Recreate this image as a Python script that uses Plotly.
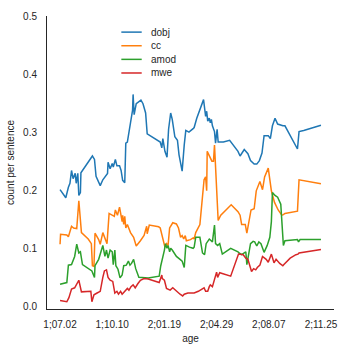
import plotly.graph_objects as go

# age in days from first session; ticks every 100 days
age_ticks = [0, 100, 200, 300, 400, 500]
age_labels = ['1;07.02', '1;10.10', '2;01.19', '2;04.29', '2;08.07', '2;11.25']

series_names = ['dobj', 'cc', 'amod', 'mwe']
series_colors = ['#1f77b4', '#ff7f0e', '#2ca02c', '#d62728']

age_dobj = [0, 11, 16, 19, 22, 25, 29, 31, 34, 36, 39, 40, 62, 66, 69, 77, 82, 91, 92, 96,
            100, 102, 106, 109, 114, 117, 120, 124, 126, 129, 135, 139, 140, 142, 146, 155, 159,
            164, 167, 192, 195, 197, 201, 205, 208, 212, 215, 220, 225, 228, 234, 236, 238, 241,
            247, 255, 257, 262, 275, 279, 281, 283, 286, 288, 290, 292, 296, 298, 301, 303, 313,
            325, 341, 345, 353, 360, 365, 372, 377, 382, 387, 391, 399, 403, 407, 412, 417, 427,
            431, 455, 458, 467, 500]
dobj = [0.201, 0.187, 0.205, 0.212, 0.234, 0.220, 0.229, 0.212, 0.229, 0.191, 0.196, 0.230,
        0.259, 0.253, 0.224, 0.208, 0.218, 0.229, 0.248, 0.237, 0.246, 0.240, 0.253, 0.242,
        0.242, 0.234, 0.217, 0.213, 0.281, 0.283, 0.316, 0.338, 0.365, 0.330, 0.349, 0.355,
        0.349, 0.333, 0.297, 0.283, 0.273, 0.289, 0.267, 0.257, 0.305, 0.333, 0.322, 0.292,
        0.286, 0.261, 0.233, 0.267, 0.278, 0.303, 0.300, 0.306, 0.308, 0.324, 0.356, 0.327,
        0.336, 0.319, 0.324, 0.316, 0.322, 0.311, 0.301, 0.281, 0.305, 0.283, 0.283, 0.286,
        0.267, 0.259, 0.270, 0.263, 0.251, 0.245, 0.245, 0.251, 0.264, 0.294, 0.294, 0.289,
        0.311, 0.324, 0.314, 0.311, 0.311, 0.271, 0.301, 0.303, 0.312]

age_cc = [0, 1, 13, 16, 22, 26, 32, 36, 41, 54, 60, 62, 65, 67, 74, 77, 82, 90, 94, 101, 104,
          106, 110, 114, 116, 119, 120, 122, 124, 126, 129, 135, 141, 146, 154, 161, 166, 167,
          171, 189, 192, 195, 197, 201, 204, 207, 210, 216, 223, 227, 231, 234, 237, 240, 242,
          250, 255, 257, 260, 268, 276, 279, 281, 282, 291, 294, 296, 303, 308, 328, 341, 345,
          348, 355, 358, 362, 366, 372, 376, 383, 388, 392, 399, 405, 411, 418, 425, 428, 431,
          455, 458, 500]
cc = [0.107, 0.124, 0.123, 0.120, 0.138, 0.135, 0.134, 0.182, 0.127, 0.116, 0.108, 0.070,
      0.069, 0.126, 0.115, 0.107, 0.127, 0.108, 0.160, 0.157, 0.155, 0.166, 0.157, 0.171,
      0.160, 0.146, 0.157, 0.141, 0.155, 0.135, 0.141, 0.127, 0.119, 0.104, 0.113, 0.122,
      0.138, 0.125, 0.140, 0.137, 0.135, 0.125, 0.119, 0.102, 0.108, 0.105, 0.135, 0.144,
      0.142, 0.135, 0.119, 0.122, 0.116, 0.122, 0.113, 0.115, 0.118, 0.116, 0.127, 0.141,
      0.218, 0.223, 0.199, 0.267, 0.250, 0.250, 0.278, 0.148, 0.157, 0.175, 0.163, 0.157,
      0.141, 0.141, 0.126, 0.146, 0.166, 0.168, 0.199, 0.215, 0.201, 0.223, 0.238, 0.199,
      0.179, 0.166, 0.157, 0.158, 0.160, 0.164, 0.218, 0.211]

age_amod = [0, 13, 16, 22, 28, 32, 36, 39, 43, 61, 66, 67, 74, 82, 86, 89, 92, 96, 100, 102,
            105, 107, 111, 115, 119, 122, 127, 131, 134, 137, 141, 145, 151, 160, 169, 190, 193,
            200, 202, 205, 207, 210, 212, 215, 223, 230, 234, 238, 241, 248, 255, 257, 260, 268,
            273, 277, 280, 286, 292, 296, 298, 302, 306, 311, 327, 341, 343, 348, 356, 358, 365,
            370, 373, 377, 381, 385, 391, 397, 402, 405, 407, 412, 417, 423, 428, 431, 455, 457,
            460, 500]
amod = [0.038, 0.041, 0.071, 0.072, 0.086, 0.107, 0.092, 0.094, 0.072, 0.061, 0.050, 0.070,
        0.081, 0.105, 0.086, 0.097, 0.083, 0.097, 0.094, 0.072, 0.097, 0.070, 0.064, 0.049,
        0.054, 0.070, 0.071, 0.078, 0.071, 0.074, 0.081, 0.065, 0.050, 0.049, 0.049, 0.052,
        0.070, 0.097, 0.108, 0.100, 0.105, 0.094, 0.100, 0.097, 0.086, 0.081, 0.078, 0.067,
        0.105, 0.102, 0.100, 0.102, 0.119, 0.119, 0.092, 0.089, 0.108, 0.116, 0.111, 0.140,
        0.108, 0.105, 0.108, 0.090, 0.100, 0.094, 0.092, 0.089, 0.094, 0.072, 0.108, 0.112,
        0.111, 0.104, 0.111, 0.108, 0.093, 0.105, 0.119, 0.146, 0.196, 0.191, 0.188, 0.176,
        0.105, 0.113, 0.115, 0.111, 0.115, 0.115]

age_mwe = [0, 13, 17, 22, 28, 31, 36, 41, 55, 59, 61, 65, 71, 77, 82, 85, 89, 92, 96, 101, 105,
           109, 112, 116, 119, 124, 129, 132, 136, 140, 144, 149, 154, 161, 169, 190, 195, 196,
           200, 204, 211, 216, 223, 230, 235, 238, 245, 257, 265, 272, 276, 279, 283, 286, 288,
           292, 296, 300, 302, 306, 327, 338, 342, 351, 356, 360, 367, 371, 375, 378, 383, 388,
           395, 399, 405, 410, 414, 421, 427, 429, 441, 452, 456, 458, 500]
mwe = [0.010, 0.008, 0.015, 0.030, 0.032, 0.038, 0.045, 0.025, 0.025, 0.026, 0.008, 0.020,
       0.023, 0.026, 0.050, 0.061, 0.063, 0.050, 0.045, 0.043, 0.023, 0.026, 0.021, 0.026,
       0.021, 0.027, 0.031, 0.028, 0.034, 0.037, 0.032, 0.039, 0.045, 0.048, 0.047, 0.041,
       0.054, 0.048, 0.045, 0.031, 0.028, 0.032, 0.026, 0.021, 0.018, 0.021, 0.023, 0.023,
       0.026, 0.030, 0.032, 0.026, 0.026, 0.034, 0.037, 0.034, 0.048, 0.059, 0.050, 0.058,
       0.052, 0.078, 0.090, 0.089, 0.083, 0.081, 0.060, 0.065, 0.063, 0.067, 0.071, 0.086,
       0.081, 0.076, 0.090, 0.075, 0.081, 0.074, 0.070, 0.072, 0.083, 0.089, 0.090, 0.092,
       0.098]

ages = [age_dobj, age_cc, age_amod, age_mwe]
values = [dobj, cc, amod, mwe]

FONT = 'Liberation Sans, Arial, sans-serif'
TXT = '#262626'

fig = go.Figure()
for nombre, color, x, y in zip(series_names, series_colors, ages, values):
    fig.add_trace(go.Scatter(
        x=x, y=y, mode='lines', name=nombre,
        line=dict(color=color, width=1.5),
        showlegend=False
    ))

# leyenda a mano (matplotlib-style, compacta)
leg_y0 = 0.945
leg_step = 0.0465
for i, (nombre, color) in enumerate(zip(series_names, series_colors)):
    yy = leg_y0 - i * leg_step
    fig.add_shape(type='line', xref='paper', yref='paper',
                  x0=0.259, x1=0.330, y0=yy, y1=yy,
                  line=dict(color=color, width=1.5))
    fig.add_annotation(xref='paper', yref='paper', x=0.355, y=yy,
                       text=nombre, showarrow=False, xanchor='left', yanchor='middle',
                       font=dict(family=FONT, size=10, color=TXT))

fig.update_layout(
    width=347, height=352,
    margin=dict(l=41, r=12, t=10, b=36),
    paper_bgcolor='white', plot_bgcolor='white',
    font=dict(family=FONT, size=10, color=TXT),
    showlegend=False,
)
fig.update_xaxes(
    range=[-25, 525], tickvals=age_ticks, ticktext=age_labels,
    showgrid=False, zeroline=False, showline=True, linecolor=TXT, linewidth=1,
    ticks='', ticklabelstandoff=6,
    title=dict(text='age', standoff=5, font=dict(size=10)),
)
fig.update_yaxes(
    range=[-0.0045, 0.5], tickvals=[0, 0.1, 0.2, 0.3, 0.4, 0.5],
    tickformat='.1f',
    showgrid=False, zeroline=False, showline=True, linecolor=TXT, linewidth=1,
    ticks='', ticklabelstandoff=7,
    title=dict(text='count per sentence', standoff=6, font=dict(size=10)),
)

# quitar el margen por defecto del body para que la figura quede en (0,0)
fig.write_html('out.html', config={'displayModeBar': False},
               post_script="document.body.style.margin='0';")
